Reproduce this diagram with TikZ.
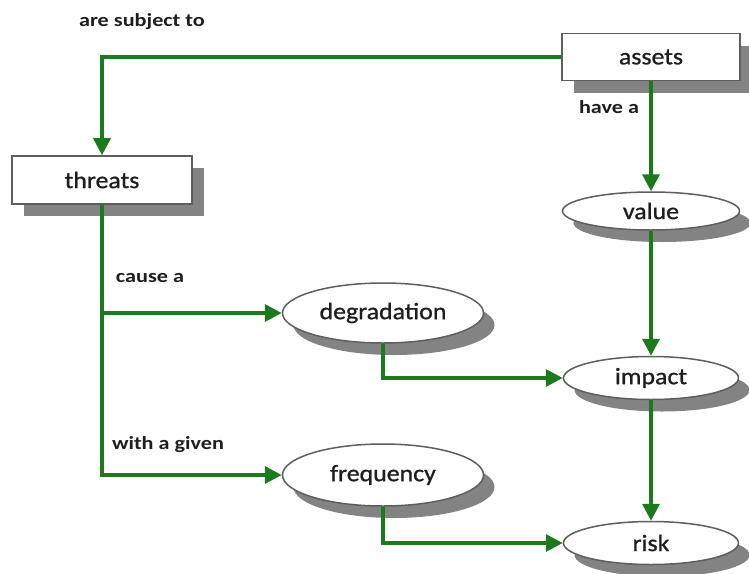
\documentclass[tikz,border=0pt]{standalone}
\usepackage{fontspec}
\setmainfont{Carlito}[FakeStretch=1.2]
\newfontfamily\nodefont{Carlito}[FakeStretch=1.1,FakeBold=1.0]
\usetikzlibrary{shapes.geometric,shadows,arrows.meta}
\definecolor{flowgreen}{HTML}{1B7A1B}
\definecolor{txt}{HTML}{1E1E1E}
\definecolor{edge}{HTML}{5E5E5E}
\definecolor{shade}{HTML}{838383}
\begin{document}
\begin{tikzpicture}[x=1pt,y=-1pt,
  every node/.style={text=txt},
  boxnode/.style={rectangle,draw=edge,line width=1.6pt,fill=white,
    inner sep=0pt,font=\nodefont\fontsize{23.5}{25}\selectfont,
    drop shadow={shadow xshift=12pt,shadow yshift=-12pt,fill=shade,opacity=1}},
  ovalnode/.style={ellipse,draw=edge,line width=1.5pt,fill=white,
    inner sep=0pt,font=\nodefont\fontsize{23.5}{25}\selectfont,
    drop shadow={shadow xshift=11pt,shadow yshift=-12pt,fill=shade,opacity=1}},
  tag/.style={font=\bfseries\fontsize{18.5}{20}\selectfont,inner sep=0pt},
  flow/.style={draw=flowgreen,line width=3.6pt,
    -{Triangle[length=17pt,width=17pt]}},
]
% canvas
\path[fill=white] (0,0) rectangle (749,573);
\useasboundingbox (0,0) rectangle (749,573);

% boxes
\node[boxnode,minimum width=178pt,minimum height=47pt] (assets) at (651,57) {assets};
\node[boxnode,minimum width=180pt,minimum height=48pt] (threats) at (102,180) {threats};

% ovals
\node[ovalnode,minimum width=177pt,minimum height=38pt] (value) at (651,211) {value};
\node[ovalnode,minimum width=201pt,minimum height=60pt] (degradation) at (383,313) {degradation};
\node[ovalnode,minimum width=175pt,minimum height=43pt] (impact) at (651,378) {impact};
\node[ovalnode,minimum width=201pt,minimum height=62pt] (frequency) at (383,475) {frequency};
\node[ovalnode,minimum width=175pt,minimum height=43pt] (risk) at (651,543) {risk};

% connectors
\draw[flow] (assets.west) -| (threats.north);
\draw[flow] (assets.south) -- (value.north);
\draw[flow] (value.south) -- (impact.north);
\draw[flow] (impact.south) -- (risk.north);
\draw[flow] (threats.south) |- (degradation.west);
\draw[flow] (threats.south) |- (frequency.west);
\draw[flow] (degradation.south) |- (impact.west);
\draw[flow] (frequency.south) |- (risk.west);

% relation labels
\node[tag] (lsubject) at (142,22) {are subject to};
\node[tag] (lhave) at (609,107) {have a};
\node[tag] (lcause) at (150,278) {cause a};
\node[tag] (lgiven) at (168,445) {with a given};
\end{tikzpicture}
\end{document}
